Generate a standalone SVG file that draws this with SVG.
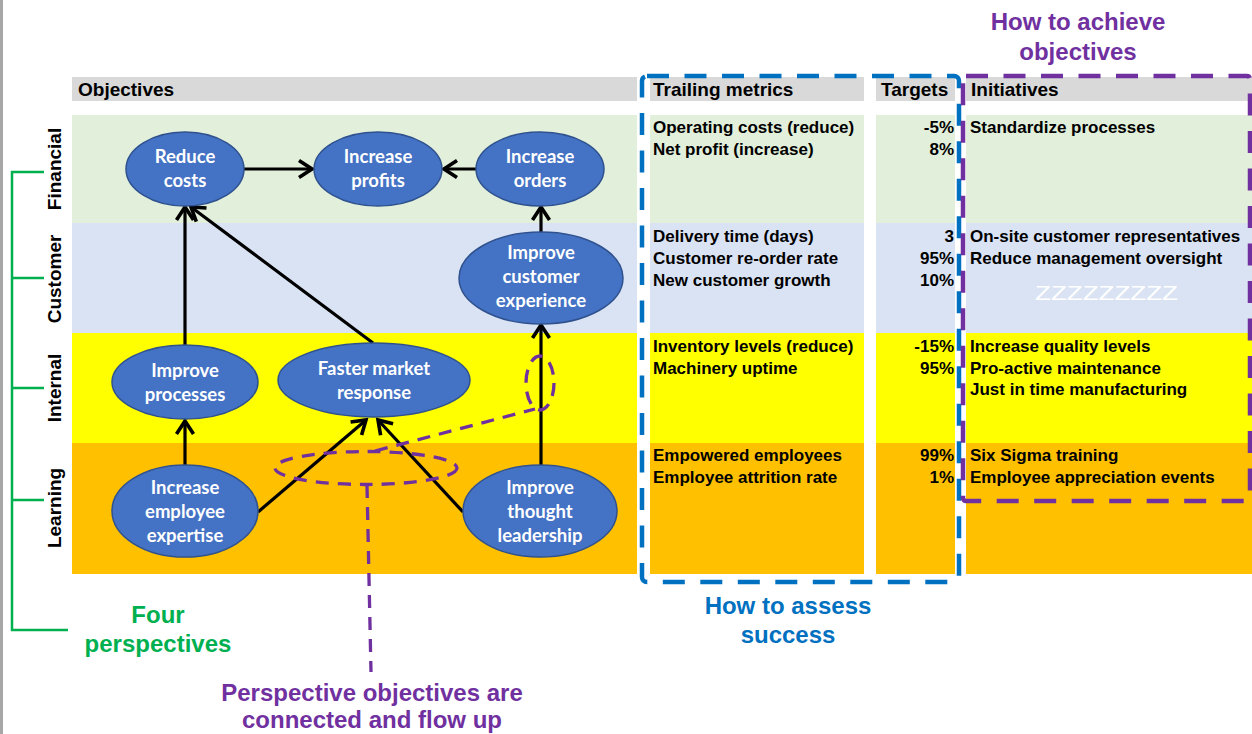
<svg xmlns="http://www.w3.org/2000/svg" width="1252" height="734" viewBox="0 0 1252 734">
<style>
.hdr{font:bold 19px "Liberation Sans",Arial,sans-serif;fill:#000}
.cell{font:bold 17px "Liberation Sans",Arial,sans-serif;fill:#000}
.num{text-anchor:end}
.rowlbl{font:bold 19px "Liberation Sans",Arial,sans-serif;fill:#000;text-anchor:middle}
.node ellipse{fill:#4472C4;stroke:#2F528F;stroke-width:1.5}
.node text{font:bold 18.5px Lato,"Open Sans",sans-serif;fill:#fff;text-anchor:middle}
.conn line{stroke:#000;stroke-width:3.2;marker-end:url(#arr)}
.anno{fill:none;stroke:#7030A0;stroke-width:3.3;stroke-dasharray:13 9}
.callout{font:bold 24px "Liberation Sans",Arial,sans-serif;text-anchor:middle}
.fin{fill:#E2EFDA}.cus{fill:#DAE3F3}.int{fill:#FFFF00}.lrn{fill:#FFC000}.hd{fill:#D9D9D9}
.box{fill:none;stroke-width:4.5;stroke-dasharray:22 15.5}
.brk{fill:none;stroke:#00B050;stroke-width:2.5}
</style>
<defs>
<marker id="arr" viewBox="-17 -12 20 24" refX="0" refY="0" markerWidth="20" markerHeight="24" markerUnits="userSpaceOnUse" orient="auto">
<path d="M-13,-8.5 L0,0 L-13,8.5" fill="none" stroke="#000" stroke-width="3.6"/>
</marker>
</defs>
<rect x="0" y="0" width="1252" height="734" fill="#fff"/>
<rect x="0" y="0" width="3" height="734" fill="#A6A6A6"/>
<g id="table">
<rect class="hd" x="72" y="77" width="565" height="24"/>
<rect class="hd" x="650" y="77" width="214" height="24"/>
<rect class="hd" x="876" y="77" width="79" height="24"/>
<rect class="hd" x="966" y="77" width="286" height="24"/>
<rect class="fin" x="72" y="115" width="565" height="108"/>
<rect class="fin" x="650" y="115" width="214" height="108"/>
<rect class="fin" x="876" y="115" width="79" height="108"/>
<rect class="fin" x="966" y="115" width="286" height="108"/>
<rect class="cus" x="72" y="223" width="565" height="110"/>
<rect class="cus" x="650" y="223" width="214" height="110"/>
<rect class="cus" x="876" y="223" width="79" height="110"/>
<rect class="cus" x="966" y="223" width="286" height="110"/>
<rect class="int" x="72" y="333" width="565" height="110"/>
<rect class="int" x="650" y="333" width="214" height="110"/>
<rect class="int" x="876" y="333" width="79" height="110"/>
<rect class="int" x="966" y="333" width="286" height="110"/>
<rect class="lrn" x="72" y="443" width="565" height="131"/>
<rect class="lrn" x="650" y="443" width="214" height="131"/>
<rect class="lrn" x="876" y="443" width="79" height="131"/>
<rect class="lrn" x="966" y="443" width="286" height="131"/>
<text class="hdr" x="78" y="96">Objectives</text>
<text class="hdr" x="653" y="96">Trailing metrics</text>
<text class="hdr" x="881" y="96">Targets</text>
<text class="hdr" x="971" y="96">Initiatives</text>
<text class="cell" x="653" y="133">Operating costs (reduce)</text>
<text class="cell" x="653" y="155">Net profit (increase)</text>
<text class="cell" x="653" y="242">Delivery time (days)</text>
<text class="cell" x="653" y="264">Customer re-order rate</text>
<text class="cell" x="653" y="286">New customer growth</text>
<text class="cell" x="653" y="352">Inventory levels (reduce)</text>
<text class="cell" x="653" y="374">Machinery uptime</text>
<text class="cell" x="653" y="461">Empowered employees</text>
<text class="cell" x="653" y="483">Employee attrition rate</text>
<text class="cell num" x="954" y="133">-5%</text>
<text class="cell num" x="954" y="155">8%</text>
<text class="cell num" x="954" y="242">3</text>
<text class="cell num" x="954" y="264">95%</text>
<text class="cell num" x="954" y="286">10%</text>
<text class="cell num" x="954" y="352">-15%</text>
<text class="cell num" x="954" y="374">95%</text>
<text class="cell num" x="954" y="461">99%</text>
<text class="cell num" x="954" y="483">1%</text>
<text class="cell" x="970" y="133">Standardize processes</text>
<text class="cell" x="970" y="242">On-site customer representatives</text>
<text class="cell" x="970" y="264">Reduce management oversight</text>
<text x="1035" y="300" textLength="143" lengthAdjust="spacingAndGlyphs" style="font:21px 'Liberation Sans',Arial,sans-serif;fill:#fff">ZZZZZZZZZ</text>
<text class="cell" x="970" y="352">Increase quality levels</text>
<text class="cell" x="970" y="374">Pro-active maintenance</text>
<text class="cell" x="970" y="395">Just in time manufacturing</text>
<text class="cell" x="970" y="461">Six Sigma training</text>
<text class="cell" x="970" y="483">Employee appreciation events</text>
</g>
<g id="row-labels">
<text class="rowlbl" transform="translate(61,169) rotate(-90)">Financial</text>
<text class="rowlbl" transform="translate(61,279) rotate(-90)">Customer</text>
<text class="rowlbl" transform="translate(61,388) rotate(-90)">Internal</text>
<text class="rowlbl" transform="translate(61,508) rotate(-90)">Learning</text>
</g>
<g id="bracket">
<path class="brk" d="M44,172 H12 V630 H68 M12,278 H44 M12,388 H44 M12,500 H44"/>
</g>
<g id="connectors" class="conn">
<line x1="244" y1="169" x2="312" y2="169"/>
<line x1="477" y1="169" x2="444" y2="169"/>
<line x1="541" y1="232" x2="541" y2="207"/>
<line x1="185" y1="346" x2="185" y2="207"/>
<line x1="373" y1="343" x2="191" y2="207"/>
<line x1="185" y1="465" x2="185" y2="421"/>
<line x1="258" y1="512" x2="366" y2="420"/>
<line x1="463" y1="512" x2="378" y2="420"/>
<line x1="541" y1="465" x2="541" y2="325"/>
</g>
<g id="n-reduce-costs" class="node">
<ellipse cx="185" cy="169" rx="59" ry="37"/>
<text x="185" y="163">Reduce</text><text x="185" y="187">costs</text>
</g>
<g id="n-increase-profits" class="node">
<ellipse cx="378" cy="169" rx="64" ry="37"/>
<text x="378" y="163">Increase</text><text x="378" y="187">profits</text>
</g>
<g id="n-increase-orders" class="node">
<ellipse cx="540" cy="169" rx="64" ry="37"/>
<text x="540" y="163">Increase</text><text x="540" y="187">orders</text>
</g>
<g id="n-customer-experience" class="node">
<ellipse cx="541" cy="278" rx="82" ry="46"/>
<text x="541" y="259">Improve</text><text x="541" y="283">customer</text><text x="541" y="307">experience</text>
</g>
<g id="n-improve-processes" class="node">
<ellipse cx="185" cy="382" rx="73" ry="37"/>
<text x="185" y="377">Improve</text><text x="185" y="401">processes</text>
</g>
<g id="n-faster-market" class="node">
<ellipse cx="374" cy="380" rx="96" ry="37"/>
<text x="374" y="375">Faster market</text><text x="374" y="399">response</text>
</g>
<g id="n-employee-expertise" class="node">
<ellipse cx="185" cy="511" rx="73" ry="46"/>
<text x="185" y="494">Increase</text><text x="185" y="518">employee</text><text x="185" y="542">expertise</text>
</g>
<g id="n-thought-leadership" class="node">
<ellipse cx="540" cy="511" rx="77" ry="46"/>
<text x="540" y="494">Improve</text><text x="540" y="518">thought</text><text x="540" y="542">leadership</text>
</g>
<g id="annotations">
<ellipse class="anno" cx="366" cy="468" rx="91" ry="16.5"/>
<ellipse class="anno" cx="540" cy="383" rx="14" ry="27"/>
<line class="anno" x1="375" y1="451" x2="535" y2="409"/>
<line class="anno" x1="367" y1="485" x2="371" y2="672"/>
</g>
<g id="boxes">
<rect class="box" x="642" y="76" width="317" height="506" rx="5" stroke="#0070C0"/>
<rect class="box" x="963" y="76" width="287" height="425" rx="3" stroke="#7030A0"/>
</g>
<g id="callouts">
<text class="callout" fill="#7030A0" x="1078" y="30">How to achieve</text>
<text class="callout" fill="#7030A0" x="1078" y="60">objectives</text>
<text class="callout" fill="#0070C0" x="788" y="614">How to assess</text>
<text class="callout" fill="#0070C0" x="788" y="643">success</text>
<text class="callout" fill="#00B050" x="158" y="623">Four</text>
<text class="callout" fill="#00B050" x="158" y="652">perspectives</text>
<text class="callout" fill="#7030A0" x="372" y="701">Perspective objectives are</text>
<text class="callout" fill="#7030A0" x="372" y="728">connected and flow up</text>
</g>
</svg>
